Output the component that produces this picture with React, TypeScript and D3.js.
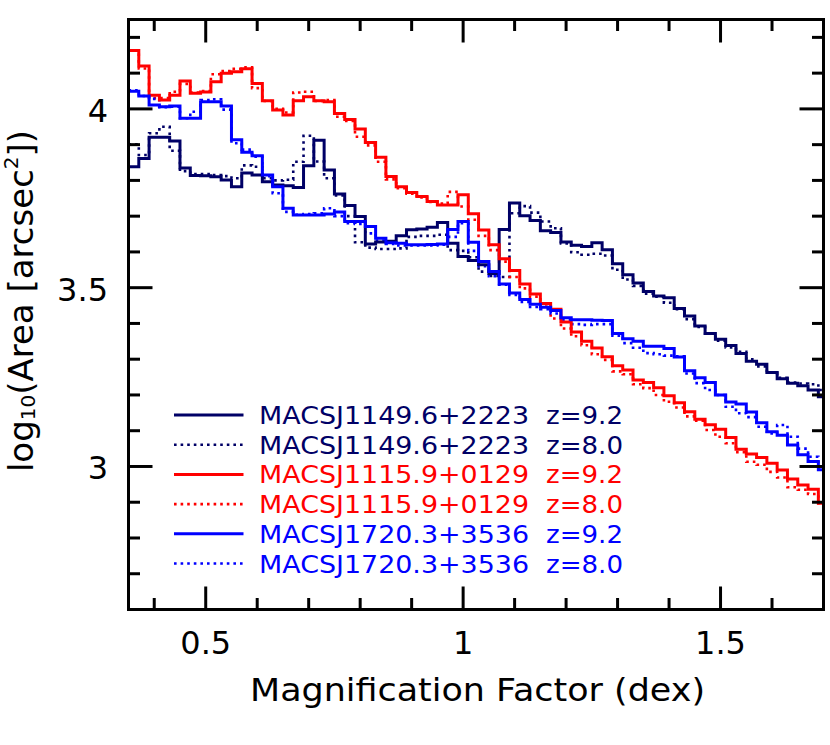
import React from "react";
import * as d3 from "d3";

// Histogram bins: left edge of first bin and bin width (dex)
const BIN_START = 0.35;
const BIN_WIDTH = 0.02;

const navySolid = [
  3.838, 3.861, 3.921, 3.921, 3.910, 3.835, 3.814, 3.813, 3.810, 3.801,
  3.782, 3.821, 3.815, 3.796, 3.787, 3.785, 3.780, 3.841, 3.912, 3.829,
  3.762, 3.730, 3.699, 3.622, 3.628, 3.630, 3.645, 3.662, 3.664, 3.669,
  3.682, 3.624, 3.587, 3.576, 3.564, 3.540, 3.663, 3.737, 3.701, 3.688,
  3.659, 3.654, 3.628, 3.619, 3.615, 3.626, 3.606, 3.567, 3.536, 3.513,
  3.489, 3.477, 3.472, 3.442, 3.421, 3.393, 3.372, 3.356, 3.338, 3.316,
  3.294, 3.286, 3.263, 3.245, 3.233, 3.226, 3.214, 3.195,
];
const navyDotted = [
  3.901, 3.871, 3.932, 3.950, 3.883, 3.826, 3.818, 3.818, 3.815, 3.812,
  3.806, 3.842, 3.838, 3.806, 3.800, 3.802, 3.852, 3.925, 3.853, 3.806,
  3.758, 3.700, 3.627, 3.612, 3.608, 3.608, 3.610, 3.642, 3.645, 3.645,
  3.648, 3.605, 3.603, 3.585, 3.545, 3.533, 3.530, 3.708, 3.728, 3.710,
  3.685, 3.666, 3.624, 3.599, 3.592, 3.595, 3.590, 3.550, 3.523, 3.505,
  3.483, 3.475, 3.458, 3.440, 3.412, 3.390, 3.372, 3.352, 3.333, 3.321,
  3.300, 3.280, 3.262, 3.248, 3.235, 3.232, 3.230, 3.214,
];
const redSolid = [
  4.163, 4.120, 4.038, 4.025, 4.038, 4.078, 4.044, 4.047, 4.076, 4.100,
  4.104, 4.112, 4.071, 4.023, 3.997, 3.983, 4.023, 4.034, 4.023, 4.020,
  3.987, 3.970, 3.944, 3.906, 3.865, 3.811, 3.782, 3.766, 3.755, 3.741,
  3.731, 3.731, 3.760, 3.707, 3.661, 3.620, 3.581, 3.548, 3.510, 3.482,
  3.456, 3.440, 3.404, 3.376, 3.350, 3.331, 3.307, 3.282, 3.270, 3.242,
  3.235, 3.220, 3.198, 3.178, 3.153, 3.132, 3.117, 3.104, 3.081, 3.048,
  3.035, 3.025, 3.009, 2.990, 2.965, 2.948, 2.936, 2.897,
];
const redDotted = [
  4.163, 4.113, 4.030, 4.030, 4.048, 4.070, 4.046, 4.050, 4.097, 4.106,
  4.112, 4.116, 4.058, 4.022, 4.000, 3.990, 4.046, 4.048, 4.022, 4.025,
  3.978, 3.966, 3.922, 3.898, 3.852, 3.803, 3.778, 3.763, 3.752, 3.740,
  3.735, 3.768, 3.727, 3.690, 3.645, 3.605, 3.573, 3.530, 3.498, 3.475,
  3.447, 3.414, 3.386, 3.364, 3.339, 3.314, 3.298, 3.266, 3.258, 3.230,
  3.219, 3.200, 3.181, 3.165, 3.140, 3.128, 3.102, 3.083, 3.065, 3.040,
  3.013, 3.005, 2.985, 2.969, 2.942, 2.935, 2.923, 2.897,
];
const blueSolid = [
  4.049, 4.036, 4.011, 4.006, 4.008, 3.974, 3.974, 4.020, 4.020, 4.008,
  3.914, 3.879, 3.869, 3.815, 3.782, 3.722, 3.703, 3.703, 3.703, 3.706,
  3.712, 3.685, 3.685, 3.671, 3.638, 3.626, 3.624, 3.620, 3.620, 3.621,
  3.622, 3.663, 3.685, 3.627, 3.573, 3.545, 3.510, 3.485, 3.467, 3.454,
  3.445, 3.436, 3.416, 3.410, 3.410, 3.409, 3.408, 3.372, 3.357, 3.350,
  3.336, 3.336, 3.330, 3.306, 3.268, 3.248, 3.235, 3.200, 3.180, 3.175,
  3.152, 3.122, 3.097, 3.087, 3.060, 3.033, 3.014, 2.991,
];
const blueDotted = [
  4.052, 4.036, 4.028, 4.005, 4.006, 3.974, 3.992, 4.025, 4.027, 3.998,
  3.904, 3.886, 3.866, 3.812, 3.764, 3.712, 3.704, 3.706, 3.708, 3.722,
  3.700, 3.680, 3.678, 3.652, 3.632, 3.622, 3.618, 3.618, 3.618, 3.618,
  3.620, 3.642, 3.680, 3.603, 3.560, 3.532, 3.508, 3.480, 3.460, 3.446,
  3.440, 3.428, 3.410, 3.398, 3.396, 3.398, 3.398, 3.366, 3.345, 3.332,
  3.317, 3.314, 3.310, 3.308, 3.260, 3.233, 3.214, 3.200, 3.167, 3.149,
  3.138, 3.111, 3.092, 3.116, 3.083, 3.050, 3.027, 3.009,
];

const xMajorTicks = [0.5, 1, 1.5];
const xMinorTicks = [0.4, 0.6, 0.7, 0.8, 0.9, 1.1, 1.2, 1.3, 1.4, 1.6, 1.7];
const xTickLabels = ["0.5", "1", "1.5"];
const yMajorTicks = [3, 3.5, 4];
const yMinorTicks = [2.7, 2.8, 2.9, 3.1, 3.2, 3.3, 3.4, 3.6, 3.7, 3.8, 3.9, 4.1, 4.2];
const yTickLabels = ["3", "3.5", "4"];

const NAVY = "#000066";
const RED = "#ff0000";
const BLUE = "#0000ff";

const series = [
  { name: "MACSJ1149.6+2223", z: "z=9.2", color: NAVY, dotted: false, values: navySolid },
  { name: "MACSJ1149.6+2223", z: "z=8.0", color: NAVY, dotted: true, values: navyDotted },
  { name: "MACSJ1115.9+0129", z: "z=9.2", color: RED, dotted: false, values: redSolid },
  { name: "MACSJ1115.9+0129", z: "z=8.0", color: RED, dotted: true, values: redDotted },
  { name: "MACSJ1720.3+3536", z: "z=9.2", color: BLUE, dotted: false, values: blueSolid },
  { name: "MACSJ1720.3+3536", z: "z=8.0", color: BLUE, dotted: true, values: blueDotted },
];

const W = 830;
const H = 745;
const left = 128.5, right = 823.5, top = 19.5, bottom = 609.5;
const FONT = "'DejaVu Sans', sans-serif";

export default function App() {
  const x = d3.scaleLinear().domain([0.35, 1.7]).range([left, right]);
  const y = d3.scaleLinear().domain([2.6, 4.25]).range([bottom, top]);

  const line = d3
    .line<[number, number]>()
    .x((d) => x(d[0]))
    .y((d) => y(d[1]))
    .curve(d3.curveStepAfter);

  const pathFor = (vals: number[]) => {
    const pts: [number, number][] = vals.map((v, i) => [BIN_START + i * BIN_WIDTH, v]);
    pts.push([BIN_START + vals.length * BIN_WIDTH, vals[vals.length - 1]]);
    return line(pts) || "";
  };

  // draw order: dotted first then solid
  const drawOrder = [1, 3, 5, 0, 2, 4];

  const legendX1 = 174, legendX2 = 243.5;
  const legendY0 = 415, legendDY = 29.7;

  return (
    <svg
      width={W}
      height={H}
      style={{ position: "absolute", left: 0, top: 0, background: "#fff" }}
      fontFamily={FONT}
    >
      <defs>
        <clipPath id="plotclip">
          <rect x={left} y={top} width={right - left} height={bottom - top} />
        </clipPath>
      </defs>
      <rect x={0} y={0} width={W} height={H} fill="#fff" />

      <g clipPath="url(#plotclip)">
        {drawOrder.map((i) => {
          const s = series[i];
          return (
            <path
              key={i}
              d={pathFor(s.values)}
              fill="none"
              stroke={s.color}
              strokeWidth={s.dotted ? 2.6 : 3}
              strokeDasharray={s.dotted ? "2.6 4" : undefined}
              strokeLinejoin="miter"
            />
          );
        })}
      </g>

      {/* frame */}
      <rect
        x={left}
        y={top}
        width={right - left}
        height={bottom - top}
        fill="none"
        stroke="#000"
        strokeWidth={3}
      />

      {/* x ticks */}
      {xMajorTicks.map((t) => (
        <g key={"xM" + t}>
          <line x1={x(t)} x2={x(t)} y1={bottom} y2={bottom - 23} stroke="#000" strokeWidth={3} />
          <line x1={x(t)} x2={x(t)} y1={top} y2={top + 23} stroke="#000" strokeWidth={3} />
        </g>
      ))}
      {xMinorTicks.map((t) => (
        <g key={"xm" + t}>
          <line x1={x(t)} x2={x(t)} y1={bottom} y2={bottom - 11.5} stroke="#000" strokeWidth={3} />
          <line x1={x(t)} x2={x(t)} y1={top} y2={top + 11.5} stroke="#000" strokeWidth={3} />
        </g>
      ))}
      {/* y ticks */}
      {yMajorTicks.map((t) => (
        <g key={"yM" + t}>
          <line x1={left} x2={left + 24} y1={y(t)} y2={y(t)} stroke="#000" strokeWidth={3} />
          <line x1={right} x2={right - 24} y1={y(t)} y2={y(t)} stroke="#000" strokeWidth={3} />
        </g>
      ))}
      {yMinorTicks.map((t) => (
        <g key={"ym" + t}>
          <line x1={left} x2={left + 11.5} y1={y(t)} y2={y(t)} stroke="#000" strokeWidth={3} />
          <line x1={right} x2={right - 11.5} y1={y(t)} y2={y(t)} stroke="#000" strokeWidth={3} />
        </g>
      ))}

      {/* tick labels */}
      {xMajorTicks.map((t, i) => (
        <text key={"xl" + t} x={x(t)} y={654} fontSize={32} textAnchor="middle" fill="#000">
          {xTickLabels[i]}
        </text>
      ))}
      {yMajorTicks.map((t, i) => (
        <text key={"yl" + t} x={108} y={y(t) + 13} fontSize={32} textAnchor="end" fill="#000">
          {yTickLabels[i]}
        </text>
      ))}

      {/* axis titles */}
      <text
        x={477.5}
        y={701}
        fontSize={32}
        textAnchor="middle"
        textLength={455}
        lengthAdjust="spacingAndGlyphs"
        fill="#000"
      >
        Magnification Factor (dex)
      </text>
      <text transform="translate(33,301) rotate(-90)" fontSize={34} textAnchor="middle" fill="#000">
        log
        <tspan fontSize={20} dy={2}>10</tspan>
        <tspan dy={-2}>(Area [arcsec</tspan>
        <tspan fontSize={20} dy={-15}>2</tspan>
        <tspan dy={15}>])</tspan>
      </text>

      {/* legend */}
      {series.map((s, i) => {
        const ly = legendY0 + i * legendDY;
        return (
          <g key={"lg" + i}>
            <line
              x1={legendX1}
              x2={legendX2}
              y1={ly}
              y2={ly}
              stroke={s.color}
              strokeWidth={s.dotted ? 2.6 : 3}
              strokeDasharray={s.dotted ? "2.6 4" : undefined}
            />
            <text
              x={259}
              y={ly + 9}
              fontSize={25}
              fill={s.color}
              textLength={270}
              lengthAdjust="spacingAndGlyphs"
            >
              {s.name}
            </text>
            <text
              x={546}
              y={ly + 9}
              fontSize={25}
              fill={s.color}
              textLength={77}
              lengthAdjust="spacingAndGlyphs"
            >
              {s.z}
            </text>
          </g>
        );
      })}
    </svg>
  );
}
